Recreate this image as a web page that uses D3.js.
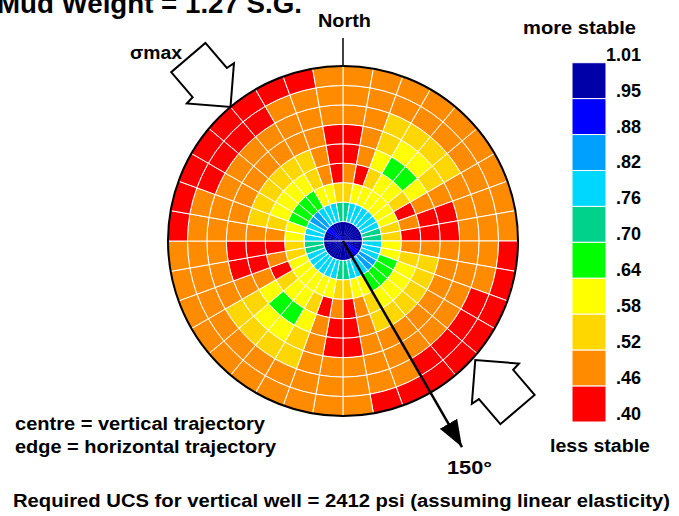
<!DOCTYPE html>
<html>
<head>
<meta charset="utf-8">
<script src="https://cdn.jsdelivr.net/npm/d3@7/dist/d3.min.js"></script>
<style>
  body { margin: 0; background: #fff; }
  text { font-family: Arial, "Liberation Sans", sans-serif; font-weight: bold; fill: #000; }
</style>
</head>
<body>
<div id="chart"></div>
<script>
// stability classes, bottom (less stable) to top (more stable)
var breaks = [0.40, 0.46, 0.52, 0.58, 0.64, 0.70, 0.76, 0.82, 0.88, 0.95, 1.01];
var colours = ["#ff0000", "#ff8c00", "#ffd700", "#ffff00", "#00ff00",
               "#00d28c", "#00d7ff", "#00a0ff", "#0000ff", "#0000a8"];
var legendLabels = ["1.01", ".95", ".88", ".82", ".76", ".70", ".64", ".58", ".52", ".46", ".40"];

// well azimuth bins (deg from north, 10 deg wide) and inclination rings (centre = vertical)
var azimuths = d3.range(0, 360, 10);
var inclinations = [0, 10, 20, 30, 40, 50, 60, 70, 80, 90];

// stability value per azimuth bin, one array per inclination ring (inner to outer)
var ring1 = [.98,.98,.98,.98,.98,.98,.98,.98,.98,.98,.98,.98,.91,.91,.98,.98,.98,.98,
             .98,.98,.98,.98,.98,.98,.98,.98,.98,.98,.98,.98,.91,.91,.98,.98,.98,.98];
var ring2 = [.73,.79,.79,.79,.79,.79,.79,.73,.73,.79,.79,.79,.85,.85,.79,.79,.79,.73,
             .73,.79,.79,.79,.79,.79,.79,.73,.73,.79,.79,.79,.85,.85,.79,.79,.79,.73];
var ring3 = [.55,.61,.61,.61,.61,.61,.61,.55,.55,.61,.61,.67,.67,.67,.67,.61,.61,.55,
             .55,.61,.61,.61,.61,.61,.61,.55,.55,.61,.61,.67,.67,.67,.67,.61,.61,.55];
var ring4 = [.49,.43,.55,.61,.61,.55,.43,.49,.43,.49,.55,.61,.61,.61,.61,.55,.49,.43,
             .49,.43,.55,.61,.61,.55,.43,.49,.43,.49,.55,.61,.61,.61,.61,.55,.49,.43];
var ring5 = [.43,.49,.61,.67,.67,.61,.49,.43,.43,.49,.55,.55,.55,.55,.55,.55,.49,.43,
             .43,.49,.61,.67,.67,.61,.49,.43,.43,.49,.55,.55,.55,.55,.55,.55,.49,.43];
var ring6 = [.43,.49,.55,.61,.61,.55,.49,.43,.43,.49,.49,.49,.49,.49,.49,.49,.49,.43,
             .43,.49,.55,.61,.61,.55,.49,.43,.43,.49,.49,.49,.49,.49,.49,.49,.49,.43];
var ring7 = [.49,.49,.55,.55,.55,.55,.49,.49,.49,.49,.49,.49,.49,.49,.49,.49,.49,.49,
             .49,.49,.55,.55,.55,.55,.49,.49,.49,.49,.49,.49,.49,.49,.49,.49,.49,.49];
var ring8 = [.49,.49,.49,.49,.49,.49,.49,.49,.49,.49,.49,.43,.43,.43,.43,.49,.49,.49,
             .49,.49,.49,.49,.49,.49,.49,.49,.49,.49,.49,.43,.43,.43,.43,.49,.49,.49];
var ring9 = [.49,.49,.49,.49,.49,.49,.49,.49,.49,.43,.43,.43,.43,.43,.43,.43,.43,.49,
             .49,.49,.49,.49,.49,.49,.49,.49,.49,.43,.43,.43,.43,.43,.43,.43,.43,.49];
var rings = [ring1, ring2, ring3, ring4, ring5, ring6, ring7, ring8, ring9];

// sigma max direction arrows and the 150 deg trajectory
var sigmaMax = [{az: 320, r: 175, rot: 49.5}, {az: 132, r: 178, rot: 229.5}];
var trajectoryAz = 150;

var width = 679, height = 516;
var cx = 343, cy = 241, R = 175;

var svg = d3.select("#chart").append("svg")
    .attr("width", width)
    .attr("height", height)
    .style("display", "block");

var rScale = d3.scaleLinear().domain([0, 90]).range([0, R]);
var aScale = d3.scaleLinear().domain([0, 360]).range([0, 2 * Math.PI]);
var colour = d3.scaleThreshold().domain(breaks.slice(1, -1)).range(colours);

function polar(az, rad) {
  return [cx + rad * Math.sin(aScale(az)), cy - rad * Math.cos(aScale(az))];
}

var cells = [];
rings.forEach(function(vals, i) {
  vals.forEach(function(v, j) {
    cells.push({inc0: inclinations[i], inc1: inclinations[i + 1],
                az0: azimuths[j], az1: azimuths[j] + 10, v: v, ring: i});
  });
});

var arc = d3.arc()
    .innerRadius(function(d) { return rScale(d.inc0); })
    .outerRadius(function(d) { return d.inc1 === 90 ? rScale(90) + 1 : rScale(d.inc1); })
    .startAngle(function(d) { return aScale(d.az0); })
    .endAngle(function(d) { return aScale(d.az1); });

var plot = svg.append("g").attr("transform", "translate(" + cx + "," + cy + ")");

plot.selectAll("path.cell")
  .data(cells)
  .enter().append("path")
    .attr("class", "cell")
    .attr("d", arc)
    .attr("fill", function(d) { return colour(d.v); })
    .attr("stroke", function(d) { return d.ring === 0 ? colour(d.v) : "#fff"; })
    .attr("stroke-width", function(d) { return d.ring === 0 ? 0.3 : 1; });

// white cross through the centre disc
plot.append("line")
    .attr("x1", -rScale(10)).attr("x2", rScale(10))
    .attr("y1", 0).attr("y2", 0)
    .attr("stroke", "#fff").attr("stroke-width", 1.2);

// outline
plot.append("circle")
    .attr("r", R)
    .attr("fill", "none")
    .attr("stroke", "#000")
    .attr("stroke-width", 2);

// north tick
svg.append("line")
    .attr("x1", cx).attr("x2", cx)
    .attr("y1", 38).attr("y2", cy - R)
    .attr("stroke", "#000").attr("stroke-width", 1.5);

// trajectory arrow
svg.append("defs").append("marker")
    .attr("id", "head")
    .attr("markerUnits", "userSpaceOnUse")
    .attr("viewBox", "0 -11 28 22")
    .attr("refX", 27).attr("refY", 0)
    .attr("markerWidth", 28).attr("markerHeight", 22)
    .attr("orient", "auto")
  .append("path")
    .attr("d", "M0,-10L27,0L0,10Z")
    .attr("fill", "#000");

var tip = polar(trajectoryAz, 238);
svg.append("line")
    .attr("x1", cx).attr("y1", cy)
    .attr("x2", tip[0]).attr("y2", tip[1])
    .attr("stroke", "#000").attr("stroke-width", 2.5)
    .attr("marker-end", "url(#head)");

// sigma max block arrows
var arrowShape = [[0, 0], [-31, -31], [-32, -22.5], [-65, -22.5],
                  [-65, 22.5], [-32, 22.5], [-31, 31]];
svg.selectAll("path.smax")
  .data(sigmaMax)
  .enter().append("path")
    .attr("class", "smax")
    .attr("d", "M" + arrowShape.join("L") + "Z")
    .attr("transform", function(d) {
      var p = polar(d.az, d.r);
      return "translate(" + p[0] + "," + p[1] + ") rotate(" + d.rot + ")";
    })
    .attr("fill", "#fff")
    .attr("stroke", "#000")
    .attr("stroke-width", 2)
    .attr("stroke-linejoin", "miter");

// legend
var legendY = d3.scaleLinear().domain([0, 10]).range([62.7, 422]);
var legend = svg.append("g");
legend.selectAll("rect")
  .data(colours.slice().reverse())
  .enter().append("rect")
    .attr("x", 572)
    .attr("y", function(d, i) { return legendY(i); })
    .attr("width", 34)
    .attr("height", legendY(1) - legendY(0))
    .attr("fill", function(d) { return d; })
    .attr("stroke", "#fff")
    .attr("stroke-width", 1);

legend.selectAll("text")
  .data(legendLabels)
  .enter().append("text")
    .attr("x", 641)
    .attr("y", function(d, i) { return legendY(i) - 2; })
    .attr("text-anchor", "end")
    .style("font-size", "18px")
    .text(function(d) { return d; });

function label(txt, x, y, size, len, anchor) {
  var t = svg.append("text")
      .attr("x", x).attr("y", y)
      .attr("text-anchor", anchor || "start")
      .style("font-size", size + "px")
      .text(txt);
  if (len) t.attr("textLength", len).attr("lengthAdjust", "spacingAndGlyphs");
  return t;
}

label("Mud Weight = 1.27 S.G.", -3, 13, 27, 305);
label("North", 344.5, 27, 18, 53, "middle");
label("\u03c3max", 130, 59, 18, 52);
label("more stable", 579.5, 34, 18, 113, "middle");
label("less stable", 600, 452, 18, 100, "middle");
label("centre = vertical trajectory", 15, 430, 18, 250);
label("edge = horizontal trajectory", 15, 453, 18, 261);
label("150\u00b0", 469.5, 474, 18, 45, "middle");
label("Required UCS for vertical well = 2412 psi (assuming linear elasticity)", 13, 507, 18, 657);
</script>
</body>
</html>
